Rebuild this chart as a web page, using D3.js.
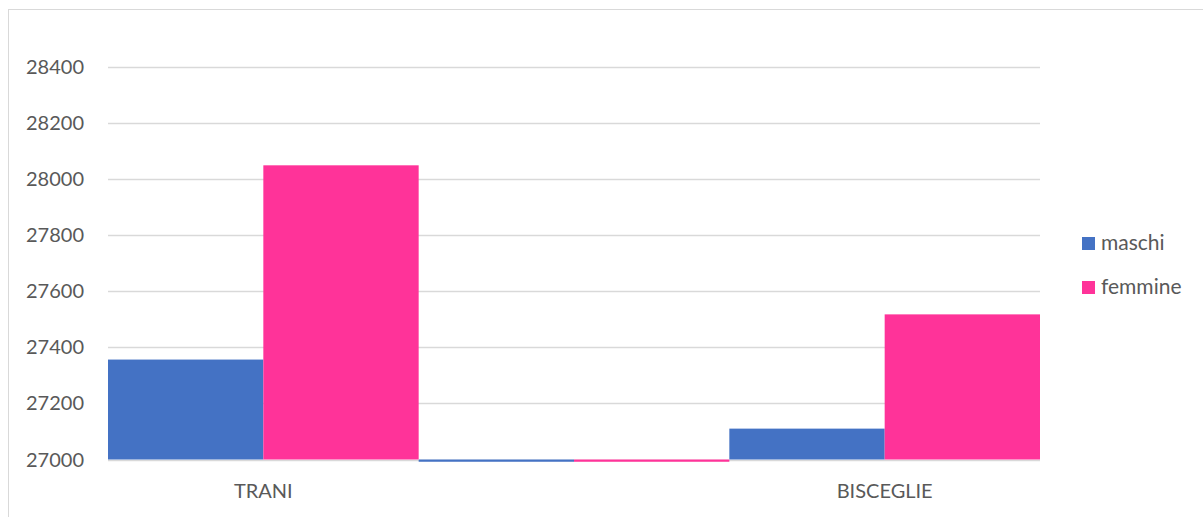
<!DOCTYPE html>
<html>
<head>
<meta charset="utf-8">
<script src="https://cdn.jsdelivr.net/npm/d3@7"></script>
<style>
  body { margin: 0; background: #fff; }
  text { font-family: Lato, "Open Sans", sans-serif; fill: #595959; }
</style>
</head>
<body>
<div id="chart"></div>
<script>
var categories = ["TRANI", "", "BISCEGLIE"];
var seriesNames = ["maschi", "femmine"];
var maschi = [27356, 26992, 27110];
var femmine = [28048, 26992, 27517];
var yTicks = [27000, 27200, 27400, 27600, 27800, 28000, 28200, 28400];
var colors = ["#4472C4", "#FF3399"];

var width = 1203, height = 517;
var svg = d3.select("#chart").append("svg")
    .attr("width", width)
    .attr("height", height);

// chart border
svg.append("rect")
    .attr("x", 8.5).attr("y", 9.5)
    .attr("width", width + 10).attr("height", height + 10)
    .attr("fill", "none").attr("stroke", "#d9d9d9");

var x = d3.scaleBand().domain(d3.range(categories.length)).range([108, 1040]).padding(0);
var xs = d3.scaleBand().domain(seriesNames).range([0, x.bandwidth()]).padding(0);
var y = d3.scaleLinear().domain([27000, 28400]).range([459.5, 66.5]);

// gridlines
svg.append("g").selectAll("line")
  .data(yTicks).enter().append("line")
    .attr("x1", 108).attr("x2", 1040)
    .attr("y1", function(d) { return Math.round(y(d)) + 0.5; })
    .attr("y2", function(d) { return Math.round(y(d)) + 0.5; })
    .attr("stroke", "#d9d9d9").attr("stroke-width", 1.3);

// y labels
svg.append("g").selectAll("text")
  .data(yTicks).enter().append("text")
    .attr("x", 84)
    .attr("y", function(d) { return y(d); })
    .attr("dy", "0.35em")
    .attr("text-anchor", "end")
    .style("font-size", "20px")
    .text(function(d) { return d; });

var rows = [];
categories.forEach(function(c, i) {
  rows.push({cat: i, s: "maschi", v: maschi[i]});
  rows.push({cat: i, s: "femmine", v: femmine[i]});
});

svg.append("g").selectAll("rect")
  .data(rows).enter().append("rect")
    .attr("x", function(d) { return x(d.cat) + xs(d.s); })
    .attr("width", xs.bandwidth())
    .attr("y", function(d) { return Math.min(y(d.v), y(27000)); })
    .attr("height", function(d) { return Math.abs(y(27000) - y(d.v)); })
    .attr("fill", function(d) { return colors[seriesNames.indexOf(d.s)]; });

// category labels
svg.append("g").selectAll("text")
  .data(categories).enter().append("text")
    .attr("x", function(d, i) { return x(i) + x.bandwidth() / 2; })
    .attr("y", 490.5)
    .attr("dy", "0.35em")
    .attr("text-anchor", "middle")
    .style("font-size", "20px")
    .text(function(d) { return d; });

// legend
var leg = svg.append("g").selectAll("g")
  .data(seriesNames).enter().append("g")
    .attr("transform", function(d, i) { return "translate(1082," + (237 + i * 44) + ")"; });
leg.append("rect").attr("width", 13).attr("height", 13)
    .attr("fill", function(d, i) { return colors[i]; });
leg.append("text").attr("x", 19).attr("y", 6).attr("dy", "0.35em")
    .style("font-size", "21px")
    .text(function(d) { return d; });
</script>
</body>
</html>
